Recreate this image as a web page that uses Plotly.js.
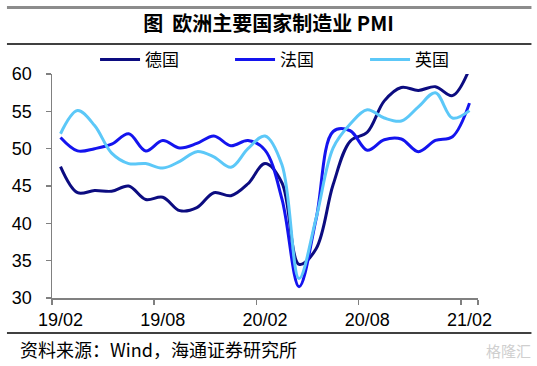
<!DOCTYPE html>
<html>
<head>
<meta charset="utf-8">
<script src="https://cdn.plot.ly/plotly-3.0.1.min.js"></script>
<style>html,body{margin:0;padding:0;background:#fff;}#chart{width:537px;height:366px;}</style>
</head>
<body>
<div id="chart"></div>
<script>
// Months 2019/02 – 2021/02
const months = ['19/02','19/03','19/04','19/05','19/06','19/07','19/08','19/09','19/10','19/11','19/12','20/01',
                '20/02','20/03','20/04','20/05','20/06','20/07','20/08','20/09','20/10','20/11','20/12','21/01','21/02'];
const germany = [47.6,44.1,44.4,44.3,45.0,43.2,43.5,41.7,42.1,44.1,43.7,45.3,
                 48.0,45.4,34.5,36.6,45.2,51.0,52.2,56.4,58.2,57.8,58.3,57.1,60.7];
const france  = [51.5,49.7,50.0,50.6,52.0,49.7,51.1,50.1,50.7,51.7,50.4,51.1,
                 49.8,43.2,31.5,40.6,52.3,52.4,49.8,51.2,51.3,49.6,51.1,51.6,56.1];
const uk      = [52.0,55.1,53.1,49.4,48.0,48.0,47.4,48.3,49.6,48.9,47.5,50.0,
                 51.7,47.8,32.6,40.7,50.1,53.3,55.2,54.1,53.7,55.6,57.5,54.1,55.1];
const seriesNames = ['德国','法国','英国'];
const tickLabels = ['19/02','19/08','20/02','20/08','21/02'];

const colors = ['#0c0c80','#1414ee','#5cc8f8'];
const values = [germany, france, uk];
const cjk = '"Noto Sans CJK SC", "Liberation Sans", Arial, sans-serif';
const latin = '"Liberation Sans", Arial, sans-serif';

const traces = values.map((v,i)=>({
  x: months, y: v, type:'scatter', mode:'lines', name: seriesNames[i],
  line:{color:colors[i], width:3, shape:'spline', smoothing:1}
}));

const L=52, R=537-477.6, T=74, B=366-298;
const W=537-L-R, H=366-T-B;
const px=(x)=>(x-L)/W, py=(y)=>(366-B-y)/H;

const layout = {
  width:537, height:366,
  margin:{l:L, r:R, t:T, b:B, pad:0},
  paper_bgcolor:'#fff', plot_bgcolor:'#fff',
  showlegend:true,
  title:{text:'<b>图\u00a0\u00a0欧洲主要国家制造业 PMI</b>', font:{family:cjk, size:20, color:'#000'},
         x:0.5, xref:'container', xanchor:'center', y:1-24/366, yref:'container', yanchor:'middle'},
  legend:{orientation:'h', x:px(95), xanchor:'left', y:py(60), yanchor:'middle',
          font:{family:cjk, size:17, color:'#000'}, itemwidth:40, entrywidth:80, entrywidthmode:'pixels',
          bgcolor:'rgba(0,0,0,0)', tracegroupgap:0, itemclick:false},
  xaxis:{type:'category', categoryorder:'array', categoryarray:months,
         range:[-0.5,24.5], tickmode:'array', tickvals:tickLabels, ticktext:tickLabels, tickangle:0,
         tickson:'boundaries', ticks:'outside', ticklen:5, tickwidth:1.5, tickcolor:'#808080',
         ticklabelstandoff:5,
         showline:true, linecolor:'#808080', linewidth:1.5, showgrid:false, zeroline:false,
         tickfont:{family:latin, size:18, color:'#000'}},
  yaxis:{range:[30,60], dtick:5, tick0:30, ticks:'outside', ticklen:5, tickwidth:1.5, tickcolor:'#808080',
         ticklabelstandoff:10,
         showline:true, linecolor:'#808080', linewidth:1.5, showgrid:false, zeroline:false,
         tickfont:{family:latin, size:18, color:'#000'}},
  shapes:[
    {type:'line', xref:'paper', yref:'paper', x0:px(7), x1:px(531), y0:py(7.5), y1:py(7.5), line:{color:'#8c8c8c', width:3}},
    {type:'line', xref:'paper', yref:'paper', x0:px(7), x1:px(531), y0:py(44), y1:py(44), line:{color:'#000', width:1.3}},
    {type:'line', xref:'paper', yref:'paper', x0:px(7), x1:px(531), y0:py(333), y1:py(333), line:{color:'#000', width:1.3}}
  ],
  annotations:[
    {xref:'paper', yref:'paper', x:px(18), y:py(349), xanchor:'left', yanchor:'middle', showarrow:false,
     text:'资料来源：Wind，海通证券研究所', font:{family:cjk, size:18, color:'#000'}},
    {xref:'paper', yref:'paper', x:px(533), y:py(350), xanchor:'right', yanchor:'middle', showarrow:false,
     text:'格隆汇', font:{family:cjk, size:15, color:'#cfcfcf'}}
  ]
};

Plotly.newPlot('chart', traces, layout, {staticPlot:true, displayModeBar:false});
</script>
</body>
</html>
